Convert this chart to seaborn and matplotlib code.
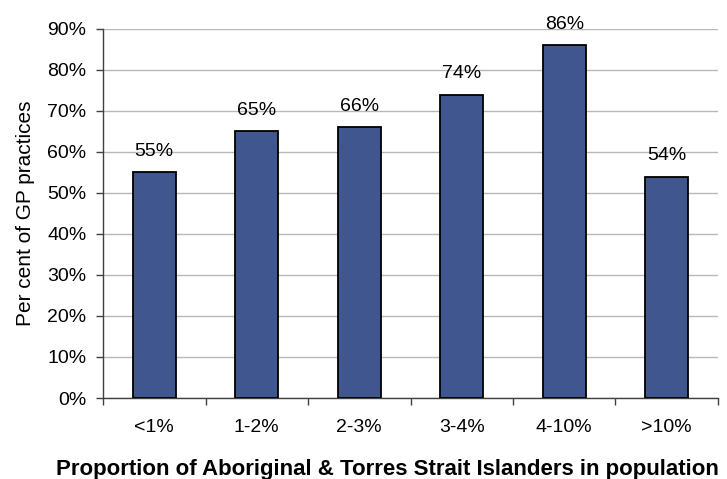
import matplotlib
matplotlib.use("Agg")
import matplotlib.pyplot as plt
import seaborn as sns
import pandas as pd
from matplotlib.ticker import FixedLocator, PercentFormatter

categories = ["<1%", "1-2%", "2-3%", "3-4%", "4-10%", ">10%"]
shares = [55, 65, 66, 74, 86, 54]

df = pd.DataFrame({"band": categories, "share": shares})

sns.set_theme(style="white")
plt.rcParams["font.family"] = ["Liberation Sans", "DejaVu Sans"]

fig = plt.figure(figsize=(7.27, 4.79), dpi=100)
ax = fig.add_axes([0.1417, 0.1691, 0.8459, 0.7704])

sns.barplot(data=df, x="band", y="share", color="#3F568F", saturation=1,
            width=0.42, edgecolor="black", linewidth=1.3, ax=ax, zorder=3)

ax.set_ylim(0, 90)
ax.set_xlim(-0.5, len(categories) - 0.5)
ax.set_yticks(range(0, 91, 10))
ax.yaxis.set_major_formatter(PercentFormatter(decimals=0))
ax.yaxis.grid(True, color="#B8B8B8", linewidth=1, zorder=0)
ax.set_axisbelow(True)

# x ticks sit on the boundaries between categories; labels stay centred
ax.xaxis.set_major_locator(FixedLocator([i - 0.5 for i in range(len(categories) + 1)]))
ax.xaxis.set_minor_locator(FixedLocator(range(len(categories))))
ax.set_xticklabels([""] * (len(categories) + 1))
ax.set_xticklabels(categories, minor=True)
ax.tick_params(axis="x", which="major", direction="out", length=5, width=1,
               color="#404040", bottom=True)
ax.tick_params(axis="x", which="minor", length=0, pad=15, labelsize=14,
               labelcolor="black")
ax.tick_params(axis="y", direction="out", length=5, width=1, color="#404040",
               left=True, labelsize=14, labelcolor="black", pad=7)

for side in ("top", "right"):
    ax.spines[side].set_visible(False)
for side in ("left", "bottom"):
    ax.spines[side].set_color("#404040")
    ax.spines[side].set_linewidth(1)

for i, v in enumerate(shares):
    ax.annotate(f"{v}%", xy=(i, v), xytext=(0, 9), textcoords="offset points",
                ha="center", va="bottom", fontsize=14, color="black")

ax.set_xlabel("")
fig.text(387 / 727, 1 - 470 / 479,
         "Proportion of Aboriginal & Torres Strait Islanders in population",
         ha="center", va="center", fontsize=16, fontweight="bold", color="black")
ax.set_ylabel("Per cent of GP practices", fontsize=15, labelpad=9, color="black")

fig.savefig("out.png", dpi=100)
